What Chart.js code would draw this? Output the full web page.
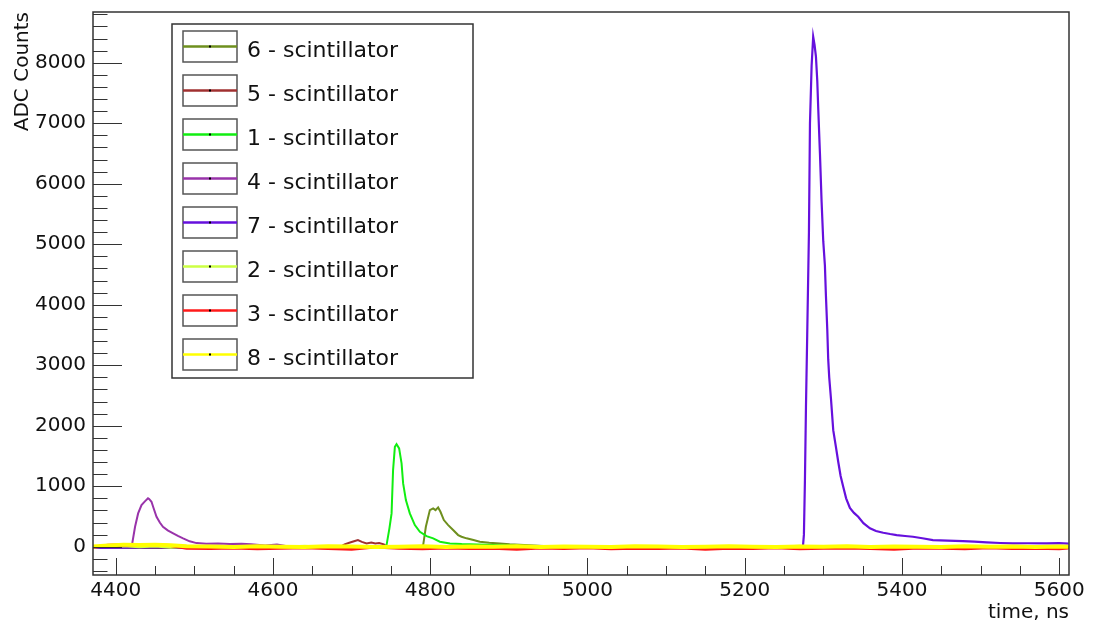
<!DOCTYPE html>
<html>
<head>
<meta charset="utf-8">
<script src="https://cdn.jsdelivr.net/npm/chart.js@4.4.1/dist/chart.umd.min.js"></script>
<style>
  html, body { margin: 0; padding: 0; background: #fff; }
  canvas { display: block; }
</style>
</head>
<body>
<canvas id="c" width="1099" height="626"></canvas>
<script>
// Scintillator waveforms — ROOT-style canvas redrawn with Chart.js.

// axis ranges and tick labels
const X_MIN = 4371, X_MAX = 5612.5;
const Y_MIN = -467, Y_MAX = 8838;
const xTicks = [4400, 4600, 4800, 5000, 5200, 5400, 5600];
const yTicks = [0, 1000, 2000, 3000, 4000, 5000, 6000, 7000, 8000];

// legend order (also draw order, last one on top)
const names = ['6 - scintillator', '5 - scintillator', '1 - scintillator', '4 - scintillator',
  '7 - scintillator', '2 - scintillator', '3 - scintillator', '8 - scintillator'];
const colors = ['#6e8f1e', '#a03030', '#11ee11', '#9933aa', '#6610dd', '#ccff44', '#ff1a1a', '#ffff00'];

// 6 — olive pulse near 4810 ns
const t6 = [4371, 4450, 4550, 4650, 4750, 4788, 4791, 4794.4, 4799.5, 4803.7, 4806.7, 4810, 4813, 4817.3, 4822.8,
  4829.1, 4835.5, 4839.8, 4846.2, 4855, 4863, 4875, 4888.5, 4901, 4950, 5050, 5150, 5250, 5350, 5450, 5550, 5612];
const v6 = [-10, -15, -5, -15, -10, -5, 28, 330, 606, 634, 606, 650, 578, 441, 358,
  276, 193, 165, 139, 110, 83, 65, 55, 40, 10, -10, -5, -15, -10, -5, -15, -10];

// 5 — small bump near 4708 ns
const t5 = [4371, 4450, 4550, 4650, 4685, 4691, 4697, 4703, 4708, 4713, 4719, 4725, 4730, 4735, 4741, 4745,
  4800, 4900, 5000, 5100, 5200, 5300, 5400, 5500, 5612];
const v5 = [-10, -20, -10, -15, -5, 40, 65, 90, 110, 80, 55, 70, 55, 60, 40, 0,
  -15, -10, -20, -10, -15, -10, -20, -10, -15];

// 1 — green pulse near 4757 ns
const t1 = [4371, 4450, 4550, 4650, 4742, 4744.4, 4748, 4750.8, 4752.7, 4755, 4757.1, 4760.4, 4763.5, 4765.5, 4769,
  4774, 4780.4, 4786.8, 4795.3, 4803.7, 4812.2, 4825, 4840, 4870, 4900, 4950, 5050, 5150, 5250, 5350, 5450, 5550, 5612];
const v1 = [-5, -10, 0, -10, -5, 28, 300, 551, 1267, 1651, 1696, 1625, 1377, 1047, 771,
  551, 358, 248, 176, 139, 83, 55, 45, 35, 20, 5, -10, 0, -10, -5, 0, -10, -5];

// 4 — purple pulse near 4442 ns
const t4 = [4371, 4400, 4418, 4420.7, 4424.5, 4428.4, 4432.7, 4437, 4441, 4442.4, 4445.4, 4448, 4451.8, 4456, 4460,
  4466, 4473, 4479, 4485.6, 4494, 4502.7, 4515, 4530, 4545, 4560, 4572, 4590, 4605, 4620, 4700,
  4800, 4900, 5000, 5100, 5200, 5300, 5400, 5500, 5612];
const v4 = [-15, -10, -5, 40, 330, 551, 689, 750, 800, 790, 743, 640, 496, 400, 330,
  270, 221, 180, 139, 90, 60, 50, 55, 45, 50, 40, 20, 35, 5, -15,
  -10, -20, -10, -15, -10, -20, -10, -15, -10];

// 7 — big violet pulse near 5287 ns
const t7 = [4371, 4450, 4550, 4650, 4750, 4850, 4950, 5050, 5150, 5250,
  5274, 5275.3, 5276.6, 5277.9, 5279.5, 5281.7, 5283, 5285.1, 5287.1, 5288.8,
  5290.6, 5292.3, 5293.5, 5295.7, 5297.8, 5299.9, 5302, 5303.3, 5305, 5306.2,
  5307.5, 5309.7, 5312.6, 5316, 5319, 5322, 5325.3, 5329, 5333.8, 5339,
  5344.4, 5351, 5359.3, 5367, 5376.2, 5385, 5393.3, 5404, 5414, 5426,
  5439.4, 5458, 5477.6, 5492, 5507.8, 5525, 5541.2, 5560, 5584, 5600, 5612];
const v7 = [-20, -10, -15, -20, -10, -15, -20, -10, -15, -10,
  -5, 200, 1100, 2300, 3500, 5200, 7000, 7950, 8430, 8300,
  8100, 7700, 7250, 6500, 5700, 5050, 4650, 4150, 3600, 3100,
  2800, 2450, 1927, 1650, 1400, 1170, 990, 800, 640, 560,
  496, 390, 304, 260, 231, 210, 193, 178, 165, 140,
  110, 102, 94, 85, 72, 62, 55, 58, 55, 60, 52];

// 2, 3, 8 — baseline only, shared sample times
const tBase = [4371, 4390, 4410, 4430, 4450, 4470, 4490, 4520, 4550, 4580, 4610, 4640, 4670, 4700, 4730,
  4760, 4790, 4820, 4850, 4880, 4910, 4940, 4970, 5000, 5030, 5060, 5090, 5120, 5150, 5180,
  5210, 5240, 5270, 5300, 5330, 5360, 5390, 5420, 5450, 5480, 5510, 5540, 5570, 5600, 5612];
const v2 = [0, -5, 10, -10, 5, -15, 0, 10, -10, 5, -5, 15, -10, 0, 5,
  -15, 10, -5, 0, -10, 15, -5, 5, -10, 0, 10, -15, 5, -5, 10,
  -10, 0, 15, -5, -10, 5, 0, -15, 10, -5, 5, -10, 0, 10, -5];
const v3 = [-10, 25, 35, 30, 30, 20, -25, -30, -20, -35, -25, -15, -30, -40, -5,
  -25, -35, -20, -30, -25, -40, -20, -30, -15, -35, -25, -30, -20, -40, -25,
  -30, -15, -35, -25, -20, -30, -40, -20, -25, -35, -15, -30, -25, -35, -20];
const v8 = [5, 20, 35, 30, 35, 25, 10, 5, -5, 10, 0, -5, 10, 5, -5,
  0, 10, -5, 5, 0, 10, -5, 5, 0, -5, 10, 5, -5, 0, 10,
  0, -5, 5, 0, 10, -5, 5, 0, -5, 10, 0, 5, -5, 5, 0];

const series = [[t6, v6], [t5, v5], [t1, v1], [t4, v4], [t7, v7], [tBase, v2], [tBase, v3], [tBase, v8]];
const widths = [2, 2, 2, 2, 2.2, 2, 3, 4];

const FONT = "'DejaVu Sans', sans-serif";
const INK = '#111';
const FRAME = '#333';

// frame, inward ROOT-style ticks, and the boxed legend
const rootFrame = {
  id: 'rootFrame',
  afterDatasetsDraw(chart) {
    const { ctx, chartArea: a, scales: { x, y } } = chart;
    ctx.save();
    ctx.strokeStyle = FRAME;
    ctx.lineWidth = 1;
    ctx.beginPath();
    for (let v = Math.ceil(x.min / 50) * 50; v <= x.max; v += 50) {
      const px = Math.round(x.getPixelForValue(v)) + 0.5;
      const len = v % 200 === 0 ? 17 : 9;
      ctx.moveTo(px, a.bottom);
      ctx.lineTo(px, a.bottom - len);
    }
    for (let v = Math.ceil(y.min / 200) * 200; v <= y.max; v += 200) {
      const py = Math.round(y.getPixelForValue(v)) + 0.5;
      const len = v % 1000 === 0 ? 29 : 14.5;
      ctx.moveTo(a.left, py);
      ctx.lineTo(a.left + len, py);
    }
    ctx.stroke();
    ctx.lineWidth = 1.5;
    ctx.strokeRect(a.left, a.top, a.right - a.left, a.bottom - a.top);
    ctx.restore();
  },
  afterDraw(chart) {
    const { ctx } = chart;
    ctx.save();
    ctx.fillStyle = '#fff';
    ctx.fillRect(172, 24, 301, 354);
    ctx.strokeStyle = FRAME;
    ctx.lineWidth = 1.5;
    ctx.strokeRect(172, 24, 301, 354);
    ctx.font = `22px ${FONT}`;
    ctx.textBaseline = 'alphabetic';
    names.forEach((name, i) => {
      const cy = 46.5 + i * 44;
      ctx.strokeStyle = '#555';
      ctx.lineWidth = 1.5;
      ctx.strokeRect(183, cy - 15.5, 54, 31);
      ctx.strokeStyle = colors[i];
      ctx.lineWidth = 2.5;
      ctx.beginPath();
      ctx.moveTo(183, cy);
      ctx.lineTo(237, cy);
      ctx.stroke();
      ctx.fillStyle = '#000';
      ctx.fillRect(209, cy - 1, 2, 2);
      ctx.fillStyle = INK;
      ctx.fillText(name, 247, cy + 10);
    });
    ctx.restore();
  },
};

const plain = (v) => String(v);

new Chart(document.getElementById('c'), {
  type: 'line',
  data: {
    datasets: series.map(([t, v], i) => ({
      label: names[i],
      data: t.map((x, k) => ({ x, y: v[k] })),
      borderColor: colors[i],
      backgroundColor: colors[i],
      borderWidth: widths[i],
      pointRadius: 0,
      tension: 0,
      order: names.length - 1 - i,
    })),
  },
  options: {
    responsive: false,
    animation: false,
    events: [],
    layout: { padding: { left: 0, top: 12, right: 30, bottom: 0 } },
    plugins: { legend: { display: false }, tooltip: { enabled: false } },
    scales: {
      x: {
        type: 'linear',
        min: X_MIN,
        max: X_MAX,
        afterBuildTicks: (s) => { s.ticks = xTicks.map((value) => ({ value })); },
        afterFit: (s) => { s.height = 51; s.paddingLeft = 0; s.paddingRight = 0; },
        grid: { display: false, drawTicks: false },
        border: { display: false },
        ticks: { color: INK, font: { family: FONT, size: 20 }, padding: 4, maxRotation: 0, autoSkip: false, callback: plain },
        title: { display: true, text: 'time, ns', align: 'end', color: INK, font: { family: FONT, size: 20 }, padding: { top: 0, bottom: 1 } },
      },
      y: {
        type: 'linear',
        min: Y_MIN,
        max: Y_MAX,
        afterBuildTicks: (s) => { s.ticks = yTicks.map((value) => ({ value })); },
        afterFit: (s) => { s.width = 93; s.paddingTop = 0; s.paddingBottom = 0; },
        grid: { display: false, drawTicks: false },
        border: { display: false },
        ticks: { color: INK, font: { family: FONT, size: 20 }, padding: 7, autoSkip: false, callback: plain },
        title: { display: true, text: 'ADC Counts', align: 'end', color: INK, font: { family: FONT, size: 20 }, padding: { top: 11, bottom: 0 } },
      },
    },
  },
  plugins: [rootFrame],
});
</script>
</body>
</html>
